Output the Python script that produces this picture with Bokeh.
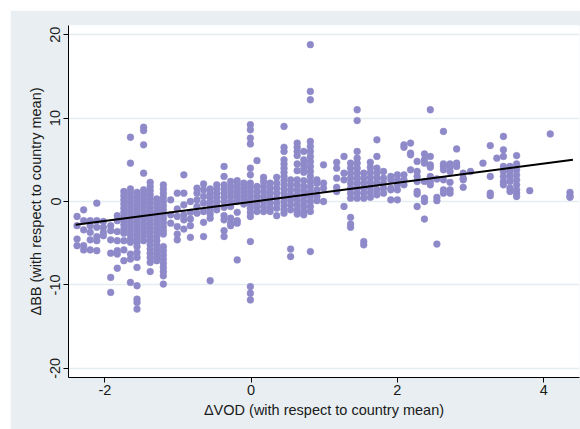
from bokeh.plotting import figure
from bokeh.models import Range1d, FixedTicker
from bokeh.embed import file_html
from bokeh.resources import INLINE

# ---- data: dVOD column positions and dBB values read per column ----
col_x = [-2.38, -2.29, -2.20, -2.11, -2.02, -1.92, -1.83, -1.74, -1.65, -1.56,
         -1.47, -1.38, -1.29, -1.20, -1.10, -1.01, -0.92, -0.83, -0.74, -0.65,
         -0.56, -0.47, -0.37, -0.28, -0.19, -0.10, -0.01, 0.08, 0.17, 0.26,
         0.35, 0.45, 0.54, 0.63, 0.72, 0.81, 0.90, 0.99, 1.17, 1.27,
         1.36, 1.45, 1.54, 1.63, 1.72, 1.81, 1.91, 2.00, 2.09, 2.18,
         2.27, 2.37, 2.45, 2.54, 2.63, 2.72, 2.81, 2.90, 3.00, 3.17,
         3.27, 3.36, 3.45, 3.54, 3.63, 3.81, 4.09, 4.36]
col_y = [
    [-1.8, -2.9, -4.5, -5.3],
    [-1.0, -2.3, -3.4, -5.3, -5.8],
    [-2.3, -2.9, -3.7, -4.6, -5.8],
    [-0.2, -2.3, -3.1, -4.2, -4.7, -5.9],
    [-2.4, -3.1, -3.7, -4.1],
    [-2.9, -3.5, -4.6, -6.2, -9.1, -10.9],
    [-1.7, -2.3, -3.6, -4.7, -5.9, -6.3, -8.0],
    [1.2, 0.7, 0.2, -0.3, -0.8, -1.3, -1.8, -2.3, -2.8, -3.3, -3.8, -4.7, -5.8, -7.1],
    [7.7, 4.6, 1.5, 1.0, 0.5, 0.0, -0.5, -1.0, -1.5, -2.0, -2.5, -3.0, -3.5, -4.0, -4.5, -4.9, -6.3, -6.9, -9.7],
    [1.1, 0.6, 0.1, -0.4, -0.9, -1.4, -1.9, -2.4, -2.9, -3.4, -3.9, -4.4, -4.9, -5.4, -6.1, -6.7, -7.9, -10.1, -11.7, -12.1, -12.9],
    [8.9, 8.5, 6.8, 3.4, 1.4, 0.9, 0.4, -0.1, -0.6, -1.1, -1.6, -2.1, -2.6, -3.1, -3.6, -4.1, -4.7],
    [2.3, 1.8, 1.3, 0.8, 0.3, -0.2, -0.7, -1.2, -1.7, -2.2, -2.7, -3.2, -3.7, -4.2, -4.7, -5.2, -5.7, -6.2, -6.7, -7.3, -8.4],
    [0.3, -0.2, -0.7, -1.2, -1.7, -2.2, -2.7, -3.2, -3.7, -4.2, -4.7, -5.2, -5.7, -6.2, -6.7, -7.1],
    [2.0, 1.5, 1.0, 0.5, 0.0, -0.5, -1.0, -1.5, -2.0, -2.5, -3.0, -3.5, -3.9, -5.4, -5.9, -6.4, -6.9, -7.4, -7.9, -8.4, -8.9, -9.9],
    [0.2, -1.6, -2.6],
    [1.0, -0.9, -1.8, -3.0, -3.9, -4.6],
    [3.2, 1.0, -0.4, -1.6, -2.2, -3.3],
    [0.0, -1.3, -2.1, -2.9, -4.3],
    [1.6, 1.0, 0.2, -0.6, -1.4],
    [2.1, 1.4, 0.6, -0.2, -1.2, -2.5, -4.2],
    [1.5, 1.0, 0.5, 0.0, -0.5, -1.0, -1.5, -2.0, -9.5],
    [2.0, 1.5, 1.0, 0.5, 0.0, -0.5, -1.0],
    [4.2, 3.0, 2.0, 1.5, 1.0, 0.5, 0.0, -0.7, -1.7, -2.2, -3.5, -4.2],
    [2.4, 1.8, 1.2, 0.6, 0.0, -0.6, -2.0, -2.6, -2.9],
    [2.5, 2.0, 1.5, 1.0, 0.5, 0.0, -1.3, -2.3, -2.6, -7.0],
    [2.2, 1.7, 1.2, 0.7, 0.2, -0.3],
    [9.2, 8.6, 7.6, 6.9, 4.0, 3.2, 2.2, 1.7, 1.2, 0.7, 0.2, -0.3, -0.8, -1.3, -1.8, -4.8, -10.2, -11.0, -11.8],
    [4.9, 1.8, 1.2, 0.6, 0.0, -0.6, -1.2],
    [2.9, 2.4, 1.8, 1.2, 0.6, 0.0, -0.6, -1.2],
    [2.2, 1.6, 1.0, 0.4, -0.2, -0.8, -1.2],
    [2.9, 2.2, 1.6, 1.0, 0.4, -0.2, -0.8, -1.7],
    [9.0, 6.5, 6.0, 5.0, 4.5, 4.0, 3.5, 3.0, 2.5, 2.0, 1.5, 1.0, 0.5, 0.0, -0.5, -1.0, -1.4],
    [2.6, 2.0, 1.4, 0.8, 0.2, -0.4, -1.0, -5.7, -6.6],
    [7.0, 6.5, 6.0, 5.5, 4.5, 3.7, 2.6, 2.0, 1.4, 0.8, 0.2, -0.4, -1.0, -1.5],
    [6.0, 5.0, 4.5, 4.0, 3.5, 2.5, 1.8, 1.2, 0.6, 0.0, -0.6, -1.2, -1.6],
    [18.8, 13.2, 12.2, 7.2, 6.6, 6.0, 5.4, 4.8, 4.2, 3.6, 3.0, 2.4, 1.8, 1.2, 0.6, 0.0, -0.6, -1.2, -6.0],
    [2.6, 2.2, 1.4, 0.6, 0.1],
    [4.4, 2.2, 1.6, 0.0],
    [4.7, 4.0, 2.8, 1.7, 1.2],
    [5.4, 3.4, 2.6, -0.6],
    [4.6, 4.0, 3.4, 2.8, 2.2, 1.6, 1.0, 0.4, -1.9, -2.7, -3.1],
    [11.0, 9.7, 6.0, 5.2, 4.6, 4.0, 3.4, 2.8, 2.2, 1.6, 1.0, 0.4],
    [3.4, 2.8, 2.2, 1.6, 1.0, 0.4, -4.8, -5.2],
    [4.7, 4.1, 3.5, 2.9, 2.3, 1.7, 1.1, 0.5],
    [7.4, 5.4, 4.0, 3.4, 2.8, 2.2, 1.4, 0.8],
    [3.6, 2.8, 2.2, 1.6, 1.0],
    [3.0, 2.6, 1.6, 1.4, 0.2],
    [3.2, 2.6, 2.0, 1.4, 0.2],
    [6.8, 6.5, 3.2, 2.6, 2.0],
    [7.0, 5.8, 5.6, 3.8],
    [4.8, 3.6, 3.0, 2.4, 1.2, 0.9, -0.6],
    [5.7, 5.0, 4.6, 2.4, 0.4, 0.0, -2.1],
    [11.0, 5.4, 4.4, 4.1, 3.0, 2.4, 2.0],
    [2.7, 0.5, 0.1, -5.1],
    [8.4, 4.5, 4.2, 3.8, 2.6, 1.4, 1.0],
    [4.5, 4.2, 3.6, 2.3, 1.4, 1.0],
    [6.3, 4.6, 4.2],
    [3.4, 2.8, 2.6, 1.7],
    [3.6],
    [4.6],
    [6.7, 3.0, 1.0, 0.7],
    [5.2],
    [7.8, 6.2, 5.4, 4.2, 3.6, 3.0, 2.4, 2.0],
    [4.2, 3.6, 3.0, 2.4, 1.6, 1.2],
    [5.5, 4.5, 3.8, 3.2, 2.6, 2.0, 1.4, 1.0, 0.6],
    [1.3],
    [8.1],
    [1.1, 0.7, 0.5],
]

# fitted line end points
fit_x = [-2.4, 4.4]
fit_y = [-2.8, 5.0]

x_ticks = [-2, 0, 2, 4]
y_ticks = [-20, -10, 0, 10, 20]

x_title = "\u0394VOD (with respect to country mean)"
y_title = "\u0394BB (with respect to country mean)"

vod = [x for x, ys in zip(col_x, col_y) for _ in ys]
bb = [y for ys in col_y for y in ys]

FONT = "Liberation Sans"
TXT = "#1a1a1a"

p = figure(width=570, height=419, output_backend="svg", toolbar_location=None,
           x_range=Range1d(-2.497, 4.49), y_range=Range1d(-21.1, 21.1),
           min_border_left=58, min_border_right=1, min_border_top=15,
           min_border_bottom=52)
p.margin = (10, 0, 0, 10)

p.background_fill_color = "white"
p.border_fill_color = "#E8EEF1"
p.outline_line_color = None

p.xgrid.visible = False
p.ygrid.grid_line_color = "#E4EDF0"
p.ygrid.grid_line_width = 1.5

p.xaxis.ticker = FixedTicker(ticks=x_ticks)
p.yaxis.ticker = FixedTicker(ticks=y_ticks)
p.xaxis.major_label_overrides = {t: str(t) for t in x_ticks}
p.yaxis.major_label_overrides = {t: str(t) for t in y_ticks}

for ax in (p.xaxis, p.yaxis):
    ax.axis_line_color = "black"
    ax.axis_line_width = 1
    ax.major_tick_line_color = "black"
    ax.major_tick_in = 0
    ax.major_tick_out = 5
    ax.minor_tick_line_color = None
    ax.major_label_text_font = FONT
    ax.major_label_text_font_size = "14.5px"
    ax.major_label_text_color = TXT
    ax.axis_label_text_font = FONT
    ax.axis_label_text_font_size = "14.5px"
    ax.axis_label_text_font_style = "normal"
    ax.axis_label_text_color = TXT

p.xaxis.axis_label = x_title
p.yaxis.axis_label = y_title
p.yaxis.major_label_orientation = "vertical"
p.xaxis.major_label_standoff = 2
p.yaxis.major_label_standoff = 3
p.xaxis.axis_label_standoff = 4
p.yaxis.axis_label_standoff = 4

p.scatter(vod, bb, size=6.8, fill_color="#8E89C9", line_color="#8E89C9",
          line_width=0.5)
p.line(fit_x, fit_y, line_color="black", line_width=2)

open("out.html", "w").write(file_html(p, INLINE))
